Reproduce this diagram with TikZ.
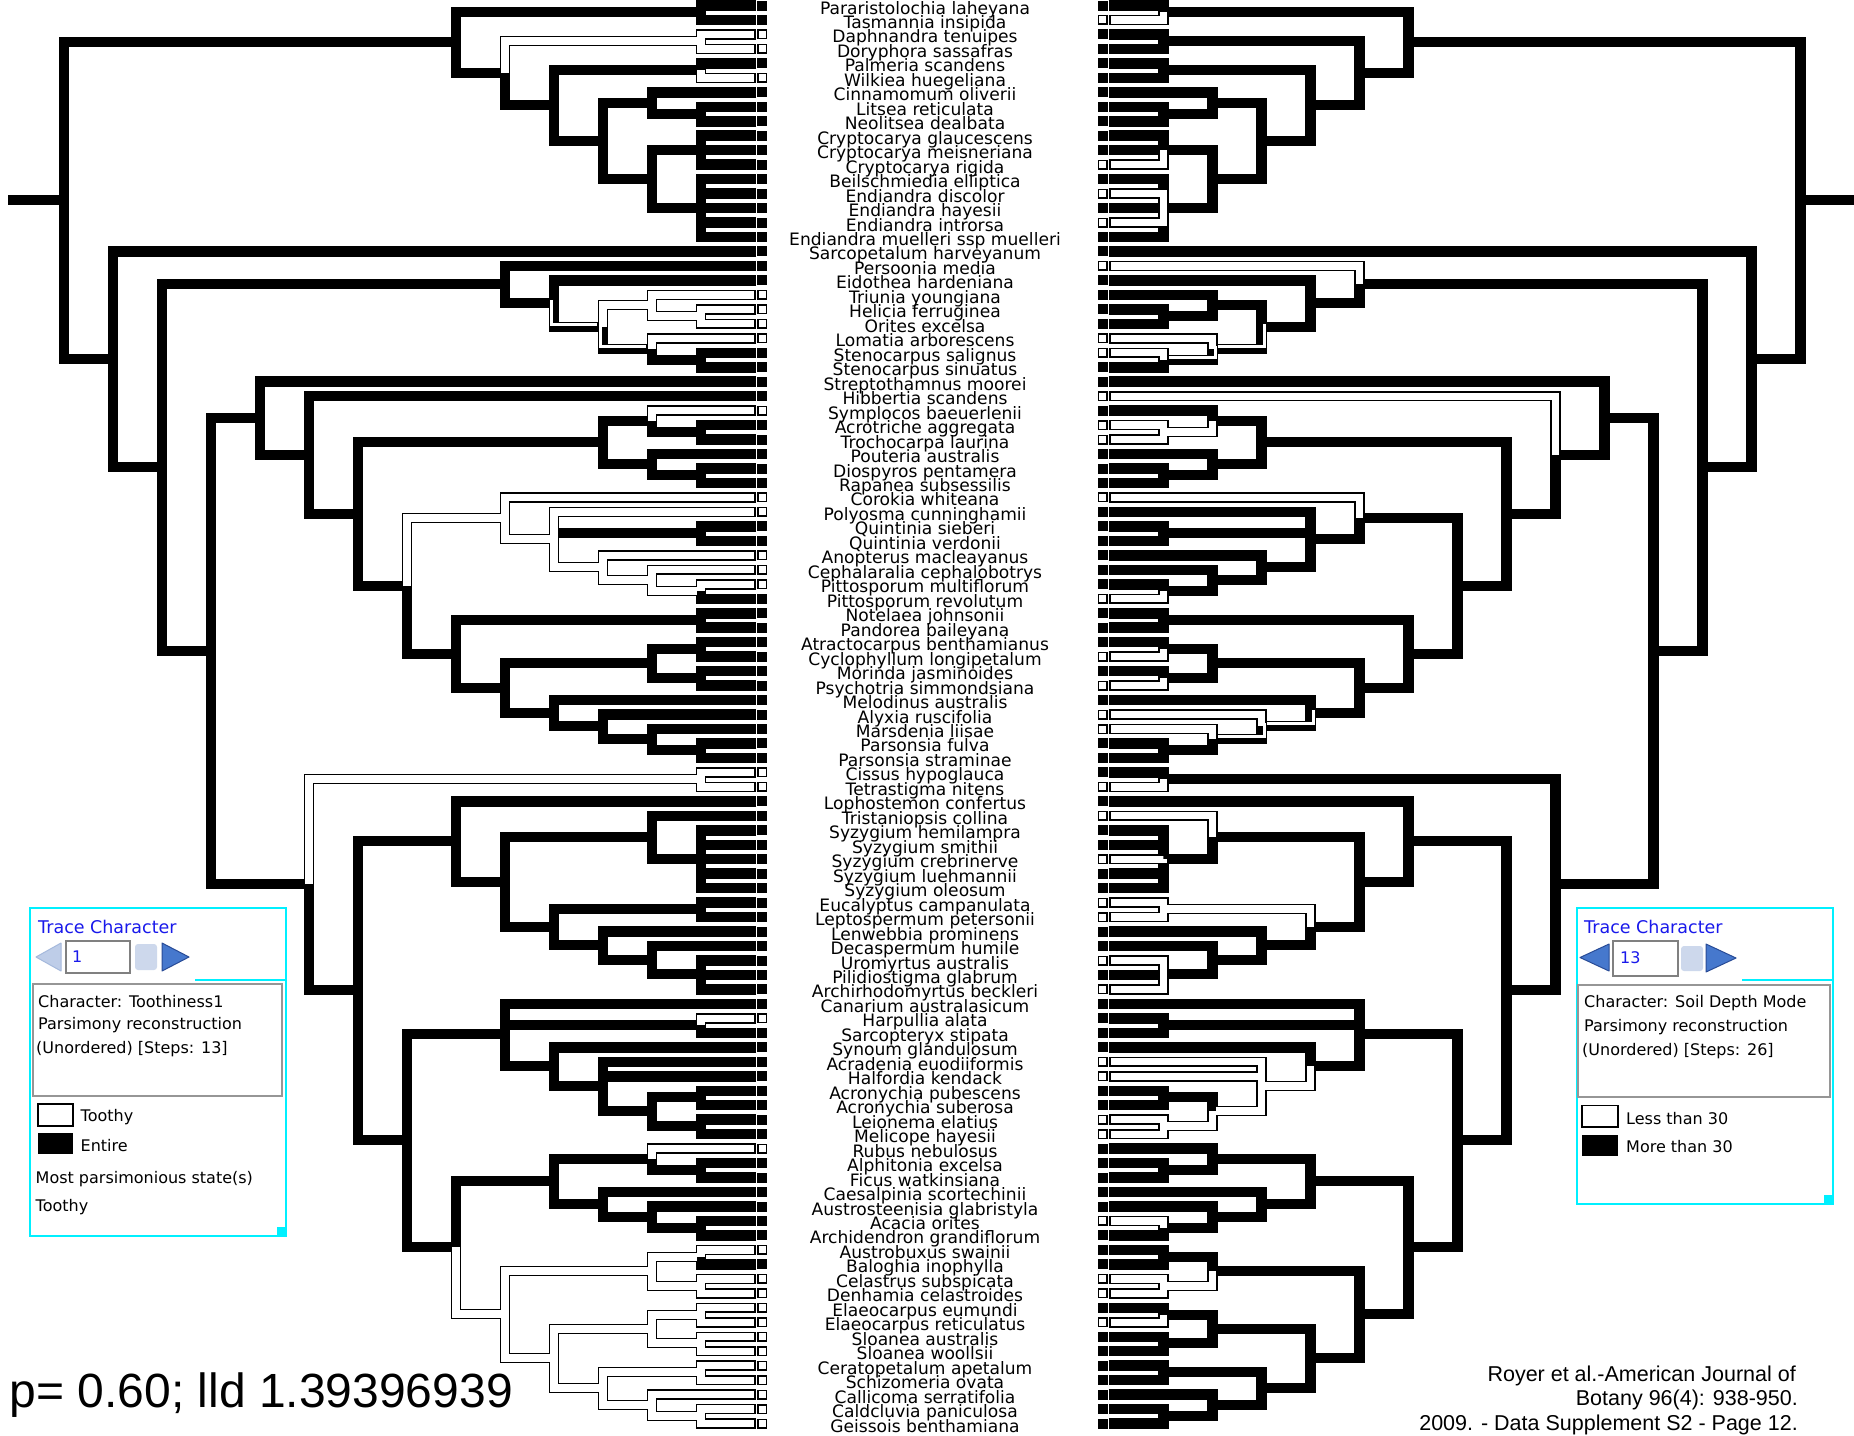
\documentclass[tikz,border=0pt]{standalone}
\usepackage{fontspec}
\setmainfont{DejaVu Sans}
\newfontfamily\arialf{Liberation Sans}
\definecolor{cyanL}{RGB}{0,240,255}
\definecolor{tcblue}{RGB}{25,25,235}
\definecolor{arrowblue}{RGB}{70,120,205}
\definecolor{arrowdark}{RGB}{40,75,150}
\definecolor{arrowfade}{RGB}{190,205,232}
\definecolor{arrowfadeb}{RGB}{165,185,220}
\definecolor{panelgray}{RGB}{150,150,150}
\definecolor{btnfade}{RGB}{205,216,236}

\newcommand\setnd[3]{\expandafter\xdef\csname ndx#1\endcsname{#2}\expandafter\xdef\csname ndy#1\endcsname{#3}}
\newcommand\gx[1]{\csname ndx#1\endcsname}
\newcommand\gy[1]{\csname ndy#1\endcsname}
\newcommand\IN[4]{\pgfmathsetmacro\tmpx{701-49*(#2-1)}\pgfmathsetmacro\tmpy{floor((\gy{#3}+\gy{#4})/2)}\setnd{#1}{\tmpx}{\tmpy}}
\newif\ifleftside
\newcommand\BR[4]{\ifleftside\dobr{#1}{#2}{#3}\else\dobr{#1}{#2}{#4}\fi}
\newcommand\dobrblack[3]{\draw[blk] (\gx{#1},\gy{#1}) |- (\gx{#2},\gy{#2});}
\newcommand\dobrwhite[3]{%
 \if#3W\relax
   \ifcsname istip#2\endcsname
     \draw[wht,shorten >=1.6pt] (\gx{#1},\gy{#1}) |- (\gx{#2},\gy{#2});
   \else
     \draw[wht,shorten >=3.65pt] (\gx{#1},\gy{#1}) |- (\gx{#2},\gy{#2});
   \fi
 \fi
 \if#3E\relax
   \draw[eqw] (\gx{#1},\gy{#1}) |- (\gx{#2},\gy{#2});
 \fi
 \ifcsname istip#2\endcsname
   \if#3W\relax
     \draw[tipW] (757.75,{\gy{#2}-4.25}) rectangle (766.25,{\gy{#2}+4.25});
   \else
     \fill[black] (757,{\gy{#2}-5}) rectangle (767,{\gy{#2}+5});
   \fi
 \fi}

\newcommand\branchlist{%
\BR{nRoot}{nA}BB
\BR{nA}{n12}BB \BR{n12}{t1}BB \BR{n12}{t2}BW
\BR{nA}{nB}BB
\BR{nB}{n34}WB \BR{n34}{t3}WB \BR{n34}{t4}WB
\BR{nB}{nC}BB
\BR{nC}{n56}BB \BR{n56}{t5}BB \BR{n56}{t6}WB
\BR{nC}{nD}BB
\BR{nD}{nE}BB \BR{nE}{t7}BB \BR{nE}{n89}BB \BR{n89}{t8}BB \BR{n89}{t9}BB
\BR{nD}{nF}BB \BR{nF}{nCr}BB \BR{nCr}{t10}BB \BR{nCr}{t11}BB \BR{nCr}{t12}BW
\BR{nF}{nEn}BB \BR{nEn}{t13}BB \BR{nEn}{t14}BW \BR{nEn}{t15}BB \BR{nEn}{t16}BW \BR{nEn}{t17}BB
\BR{nRoot}{nTh}BB
\BR{nTh}{t18}BB
\BR{nTh}{nTw}BB
\BR{nTw}{nP}BB
\BR{nP}{t19}BW
\BR{nP}{nQ}BB
\BR{nQ}{t20}BB
\BR{nQ}{nT}EB
\BR{nT}{nS}WB \BR{nS}{t21}WB \BR{nS}{n2223}WB \BR{n2223}{t22}WB \BR{n2223}{t23}WB
\BR{nT}{nU}EE \BR{nU}{t24}WW \BR{nU}{n2526}BE \BR{n2526}{t25}BW \BR{n2526}{t26}BB
\BR{nTw}{n11}BB
\BR{n11}{n10a}BB
\BR{n10a}{t27}BB
\BR{n10a}{n9a}BB
\BR{n9a}{t28}BW
\BR{n9a}{n8a}BB
\BR{n8a}{n3a}BB
\BR{n3a}{n2a}BB \BR{n2a}{t29}WB \BR{n2a}{n3031}BW \BR{n3031}{t30}BW \BR{n3031}{t31}BW
\BR{n3a}{n2b}BB \BR{n2b}{t32}BB \BR{n2b}{n3334}BB \BR{n3334}{t33}BB \BR{n3334}{t34}BB
\BR{n8a}{nG}BB
\BR{nG}{nH}WB
\BR{nH}{t35}WW
\BR{nH}{nX}WB
\BR{nX}{t36}WB
\BR{nX}{n3738}BB \BR{n3738}{t37}BB \BR{n3738}{t38}BB
\BR{nX}{nV}WB
\BR{nV}{t39}WB
\BR{nV}{nW}WB
\BR{nW}{t40}WB
\BR{nW}{n4142}WB \BR{n4142}{t41}WB \BR{n4142}{t42}BW
\BR{nG}{nL}BB
\BR{nL}{n4344}BB \BR{n4344}{t43}BB \BR{n4344}{t44}BB
\BR{nL}{nM}BB
\BR{nM}{n2c}BB \BR{n2c}{n4546}BB \BR{n4546}{t45}BB \BR{n4546}{t46}BW \BR{n2c}{n4748}BB \BR{n4748}{t47}BB \BR{n4748}{t48}BW
\BR{nM}{nMs}BB \BR{nMs}{t49}BB \BR{nMs}{nMt}BE \BR{nMt}{t50}BW \BR{nMt}{n2d}BE \BR{n2d}{t51}BW \BR{n2d}{n5253}BB \BR{n5253}{t52}BB \BR{n5253}{t53}BB
\BR{n11}{n9b}BB
\BR{n9b}{n5455}WB \BR{n5455}{t54}WB \BR{n5455}{t55}WW
\BR{n9b}{n8b}BB
\BR{n8b}{nMY}BB
\BR{nMY}{t56}BB
\BR{nMY}{nMYf}BB
\BR{nMYf}{nMYa}BB \BR{nMYa}{t57}BW \BR{nMYa}{nSyz}BB \BR{nSyz}{t58}BB \BR{nSyz}{t59}BB \BR{nSyz}{t60}BW \BR{nSyz}{t61}BB \BR{nSyz}{t62}BB
\BR{nMYf}{nMYb}BB \BR{nMYb}{n6364}BW \BR{n6364}{t63}BW \BR{n6364}{t64}BW
\BR{nMYb}{nMYc}BB \BR{nMYc}{t65}BB \BR{nMYc}{nMYd}BB \BR{nMYd}{t66}BB \BR{nMYd}{n6769}BB \BR{n6769}{t67}BW \BR{n6769}{t68}BB \BR{n6769}{t69}BW
\BR{n8b}{nRO}BB
\BR{nRO}{nSe}BB
\BR{nSe}{t70}BB
\BR{nSe}{n7172}BB \BR{n7172}{t71}WB \BR{n7172}{t72}BB
\BR{nSe}{nSd}BB
\BR{nSd}{t73}BB
\BR{nSd}{nSc}BW
\BR{nSc}{t74}BW \BR{nSc}{t75}BW
\BR{nSc}{nSb}BW
\BR{nSb}{n7677}BB \BR{n7677}{t76}BB \BR{n7677}{t77}BB
\BR{nSb}{n7879}BW \BR{n7879}{t78}BW \BR{n7879}{t79}BW
\BR{nRO}{nRsix}BB
\BR{nRsix}{nRF}BB
\BR{nRF}{nRo}BB \BR{nRo}{t80}WB \BR{nRo}{n8182}BB \BR{n8182}{t81}BB \BR{n8182}{t82}BB
\BR{nRF}{nFc}BB \BR{nFc}{t83}BB \BR{nFc}{nFb}BB \BR{nFb}{t84}BB \BR{nFb}{n8586}BB \BR{n8586}{t85}BW \BR{n8586}{t86}BB
\BR{nRsix}{nRfive}WB
\BR{nRfive}{nAB}WB \BR{nAB}{n8788}WB \BR{n8788}{t87}WB \BR{n8788}{t88}BB \BR{nAB}{n8990}WW \BR{n8990}{t89}WW \BR{n8990}{t90}WW
\BR{nRfive}{nELA}WB \BR{nELA}{nEL}WB \BR{nEL}{n9192}WB \BR{n9192}{t91}WB \BR{n9192}{t92}WW \BR{nEL}{n9394}WB \BR{n9394}{t93}WB \BR{n9394}{t94}WB
\BR{nELA}{nCU}WB \BR{nCU}{n9596}WB \BR{n9596}{t95}WB \BR{n9596}{t96}WB \BR{nCU}{nCUb}WB \BR{nCUb}{t97}WB \BR{nCUb}{n9899}WB \BR{n9899}{t98}WB \BR{n9899}{t99}WB
}

\newcommand\drawtree{%
 \let\dobr\dobrblack \branchlist
 \draw[blk] (8.4,\gy{nRoot}) -- (\gx{nRoot},\gy{nRoot});
 \let\dobr\dobrwhite \branchlist}

\begin{document}
\begin{tikzpicture}[x=1pt,y=-1pt,
  blk/.style={line width=10.5pt,black,line join=miter,line cap=butt},
  wht/.style={line width=7.3pt,white,line join=miter,line cap=butt},
  eqw/.style={line width=3pt,white,line join=miter,line cap=butt,shift={(-2.6,-2.6)},shorten >=3pt},
  tipW/.style={draw=black,line width=1.5pt,fill=white},
  lbl/.style={anchor=base,inner sep=0pt,font=\fontsize{17.1}{18}\selectfont},
  ptxt/.style={anchor=west,inner sep=0pt,font=\fontsize{16}{18}\selectfont},
  tctxt/.style={anchor=west,inner sep=0pt,text=tcblue,font=\fontsize{17.5}{19}\selectfont},
  cyanbox/.style={draw=cyanL,line width=2pt},
  panel/.style={draw=panelgray,line width=1.5pt,fill=white},
  field/.style={draw=gray,line width=2pt,fill=white},
  arrA/.style={fill=arrowblue,draw=arrowdark,line width=1pt,line join=round},
  arrF/.style={fill=arrowfade,draw=arrowfadeb,line width=1pt,line join=round}]
\useasboundingbox (0,0) rectangle (1854,1435);
\fill[white] (0,0) rectangle (1854,1435);

% tips
\foreach \k in {1,...,99}{%
  \pgfmathsetmacro\tmpy{5.5+(\k-1)*14.47}%
  \setnd{t\k}{755.5}{\tmpy}%
  \expandafter\gdef\csname istipt\k\endcsname{}}
% internal nodes (children first)
\IN{n12}{1}{t1}{t2}
\IN{n34}{1}{t3}{t4}
\IN{n56}{1}{t5}{t6}
\IN{n89}{1}{t8}{t9}
\IN{nE}{2}{t7}{n89}
\IN{nCr}{1}{t10}{t12}
\IN{nEn}{1}{t13}{t17}
\IN{nF}{2}{nCr}{nEn}
\IN{nD}{3}{nE}{nF}
\IN{nC}{4}{n56}{nD}
\IN{nB}{5}{n34}{nC}
\IN{nA}{6}{n12}{nB}
\IN{n2223}{1}{t22}{t23}
\IN{nS}{2}{t21}{n2223}
\IN{n2526}{1}{t25}{t26}
\IN{nU}{2}{t24}{n2526}
\IN{nT}{3}{nS}{nU}
\IN{nQ}{4}{t20}{nT}
\IN{nP}{5}{t19}{nQ}
\IN{n3031}{1}{t30}{t31}
\IN{n2a}{2}{t29}{n3031}
\IN{n3334}{1}{t33}{t34}
\IN{n2b}{2}{t32}{n3334}
\IN{n3a}{3}{n2a}{n2b}
\IN{n3738}{1}{t37}{t38}
\IN{n4142}{1}{t41}{t42}
\IN{nW}{2}{t40}{n4142}
\IN{nV}{3}{t39}{nW}
\IN{nX}{4}{t36}{nV}
\IN{nH}{5}{t35}{nX}
\IN{n4344}{1}{t43}{t44}
\IN{n4546}{1}{t45}{t46}
\IN{n4748}{1}{t47}{t48}
\IN{n2c}{2}{n4546}{n4748}
\IN{n5253}{1}{t52}{t53}
\IN{n2d}{2}{t51}{n5253}
\IN{nMt}{3}{t50}{n2d}
\IN{nMs}{4}{t49}{nMt}
\IN{nM}{5}{n2c}{nMs}
\IN{nL}{6}{n4344}{nM}
\IN{nG}{7}{nH}{nL}
\IN{n8a}{8}{n3a}{nG}
\IN{n9a}{9}{t28}{n8a}
\IN{n10a}{10}{t27}{n9a}
\IN{n5455}{1}{t54}{t55}
\IN{nSyz}{1}{t58}{t62}
\IN{nMYa}{2}{t57}{nSyz}
\IN{n6364}{1}{t63}{t64}
\IN{n6769}{1}{t67}{t69}
\IN{nMYd}{2}{t66}{n6769}
\IN{nMYc}{3}{t65}{nMYd}
\IN{nMYb}{4}{n6364}{nMYc}
\IN{nMYf}{5}{nMYa}{nMYb}
\IN{nMY}{6}{t56}{nMYf}
\IN{n7172}{1}{t71}{t72}
\IN{n7677}{1}{t76}{t77}
\IN{n7879}{1}{t78}{t79}
\IN{nSb}{2}{n7677}{n7879}
\IN{nSc}{3}{t74}{nSb}
\IN{nSd}{4}{t73}{nSc}
\IN{nSe}{5}{t70}{nSd}
\IN{n8182}{1}{t81}{t82}
\IN{nRo}{2}{t80}{n8182}
\IN{n8586}{1}{t85}{t86}
\IN{nFb}{2}{t84}{n8586}
\IN{nFc}{3}{t83}{nFb}
\IN{nRF}{4}{nRo}{nFc}
\IN{n8788}{1}{t87}{t88}
\IN{n8990}{1}{t89}{t90}
\IN{nAB}{2}{n8788}{n8990}
\IN{n9192}{1}{t91}{t92}
\IN{n9394}{1}{t93}{t94}
\IN{nEL}{2}{n9192}{n9394}
\IN{n9596}{1}{t95}{t96}
\IN{n9899}{1}{t98}{t99}
\IN{nCUb}{2}{t97}{n9899}
\IN{nCU}{3}{n9596}{nCUb}
\IN{nELA}{4}{nEL}{nCU}
\IN{nRfive}{5}{nAB}{nELA}
\IN{nRsix}{6}{nRF}{nRfive}
\IN{nRO}{7}{nSe}{nRsix}
\IN{n8b}{8}{nMY}{nRO}
\IN{n9b}{9}{n5455}{n8b}
\IN{n11}{11}{n10a}{n9b}
\IN{nTw}{12}{nP}{n11}
\IN{nTh}{13}{t18}{nTw}
\IN{nRoot}{14}{nA}{nTh}

% left tree (Toothiness)
\begin{scope}
 \leftsidetrue
 \drawtree
\end{scope}
% right tree (Soil depth), mirrored
\begin{scope}[shift={(1864.5,0)},xscale=-1]
 \leftsidefalse
 \drawtree
\end{scope}

% taxon labels
\foreach \nm [count=\k] in {Pararistolochia laheyana, Tasmannia insipida, Daphnandra tenuipes, Doryphora sassafras, Palmeria scandens, Wilkiea huegeliana, Cinnamomum oliverii, Litsea reticulata, Neolitsea dealbata, Cryptocarya glaucescens, Cryptocarya meisneriana, Cryptocarya rigida, Beilschmiedia elliptica, Endiandra discolor, Endiandra hayesii, Endiandra introrsa, Endiandra muelleri ssp muelleri, Sarcopetalum harveyanum, Persoonia media, Eidothea hardeniana, Triunia youngiana, Helicia ferruginea, Orites excelsa, Lomatia arborescens, Stenocarpus salignus, Stenocarpus sinuatus, Streptothamnus moorei, Hibbertia scandens, Symplocos baeuerlenii, Acrotriche aggregata, Trochocarpa laurina, Pouteria australis, Diospyros pentamera, Rapanea subsessilis, Corokia whiteana, Polyosma cunninghamii, Quintinia sieberi, Quintinia verdonii, Anopterus macleayanus, Cephalaralia cephalobotrys, Pittosporum multiflorum, Pittosporum revolutum, Notelaea johnsonii, Pandorea baileyana, Atractocarpus benthamianus, Cyclophyllum longipetalum, Morinda jasminoides, Psychotria simmondsiana, Melodinus australis, Alyxia ruscifolia, Marsdenia liisae, Parsonsia fulva, Parsonsia straminae, Cissus hypoglauca, Tetrastigma nitens, Lophostemon confertus, Tristaniopsis collina, Syzygium hemilampra, Syzygium smithii, Syzygium crebrinerve, Syzygium luehmannii, Syzygium oleosum, Eucalyptus campanulata, Leptospermum petersonii, Lenwebbia prominens, Decaspermum humile, Uromyrtus australis, Pilidiostigma glabrum, Archirhodomyrtus beckleri, Canarium australasicum, Harpullia alata, Sarcopteryx stipata, Synoum glandulosum, Acradenia euodiiformis, Halfordia kendack, Acronychia pubescens, Acronychia suberosa, Leionema elatius, Melicope hayesii, Rubus nebulosus, Alphitonia excelsa, Ficus watkinsiana, Caesalpinia scortechinii, Austrosteenisia glabristyla, Acacia orites, Archidendron grandiflorum, Austrobuxus swainii, Baloghia inophylla, Celastrus subspicata, Denhamia celastroides, Elaeocarpus eumundi, Elaeocarpus reticulatus, Sloanea australis, Sloanea woollsii, Ceratopetalum apetalum, Schizomeria ovata, Callicoma serratifolia, Caldcluvia paniculosa, Geissois benthamiana}{%
  \node[lbl] (lab\k) at (925,{\gy{t\k}+8.5}) {\nm};}

% ---------- left legend ----------
\draw[cyanbox] (29.6,908) rectangle (286,1236);
\fill[cyanL] (277,1227) rectangle (286,1236);
\draw[draw=cyanL,line width=2pt] (195,980) -- (286,980);
\node[tctxt] (ltc) at (38,927) {Trace Character};
\draw[arrF] (36,957) -- (61,943) -- (61,971) -- cycle;
\draw[field] (66,941) rectangle (130,973);
\node[anchor=west,inner sep=0pt,text=tcblue,font=\fontsize{16}{18}\selectfont] (lnum) at (72,957) {1};
\fill[btnfade,rounded corners=3pt] (135,944) rectangle (157,970);
\draw[arrA] (162,943) -- (189,957) -- (162,971) -- cycle;
\draw[panel] (33,984) rectangle (282,1096);
\node[ptxt] (lc1) at (38,1001.5) {Character: Toothiness1};
\node[ptxt] (lc2) at (38,1025) {Parsimony reconstruction};
\node[ptxt] (lc3) at (36,1049) {(Unordered) [Steps: 13]};
\draw[black,line width=1.5pt,fill=white] (38,1104) rectangle (73,1126);
\node[ptxt] (lt) at (80.5,1117) {Toothy};
\fill[black] (38,1133) rectangle (73,1154);
\node[ptxt] (le) at (80.5,1146) {Entire};
\node[ptxt] (lm) at (35.5,1179) {Most parsimonious state(s)};
\node[ptxt] (lm2) at (35.5,1207) {Toothy};

% ---------- right legend ----------
\draw[cyanbox] (1577,908) rectangle (1833,1204);
\fill[cyanL] (1824,1195) rectangle (1833,1204);
\draw[draw=cyanL,line width=2pt] (1742,980) -- (1833,980);
\node[tctxt] (rtc) at (1584,927) {Trace Character};
\draw[arrA] (1580,957.5) -- (1609,944) -- (1609,971) -- cycle;
\draw[field] (1613,941) rectangle (1678,976);
\node[anchor=west,inner sep=0pt,text=tcblue,font=\fontsize{16}{18}\selectfont] (rnum) at (1620,958) {13};
\fill[btnfade,rounded corners=3pt] (1681,946) rectangle (1703,971);
\draw[arrA] (1706,944) -- (1736,958) -- (1706,972) -- cycle;
\draw[panel] (1578,985) rectangle (1830,1097);
\node[ptxt] (rc1) at (1584,1003) {Character: Soil Depth Mode};
\node[ptxt] (rc2) at (1584,1027) {Parsimony reconstruction};
\node[ptxt] (rc3) at (1582,1051) {(Unordered) [Steps: 26]};
\draw[black,line width=1.5pt,fill=white] (1582,1105.5) rectangle (1618,1127);
\node[ptxt] (rl) at (1626,1118.5) {Less than 30};
\fill[black] (1582,1135) rectangle (1618,1156);
\node[ptxt] (rm) at (1626,1147) {More than 30};

% ---------- footer texts ----------
\node[anchor=base west,inner sep=0pt,font=\arialf\fontsize{48}{50}\selectfont] (pval) at (9.5,1407) {p= 0.60; lld 1.39396939};
\node[anchor=base east,inner sep=0pt,font=\arialf\fontsize{21.5}{24}\selectfont] (ref1) at (1796,1381) {Royer et al.-American Journal of};
\node[anchor=base east,inner sep=0pt,font=\arialf\fontsize{21.5}{24}\selectfont] (ref2) at (1798,1405) {Botany 96(4): 938-950.};
\node[anchor=base east,inner sep=0pt,font=\arialf\fontsize{21.5}{24}\selectfont] (ref3) at (1798,1430) {2009. - Data Supplement S2 - Page 12.};
\end{tikzpicture}
\end{document}
